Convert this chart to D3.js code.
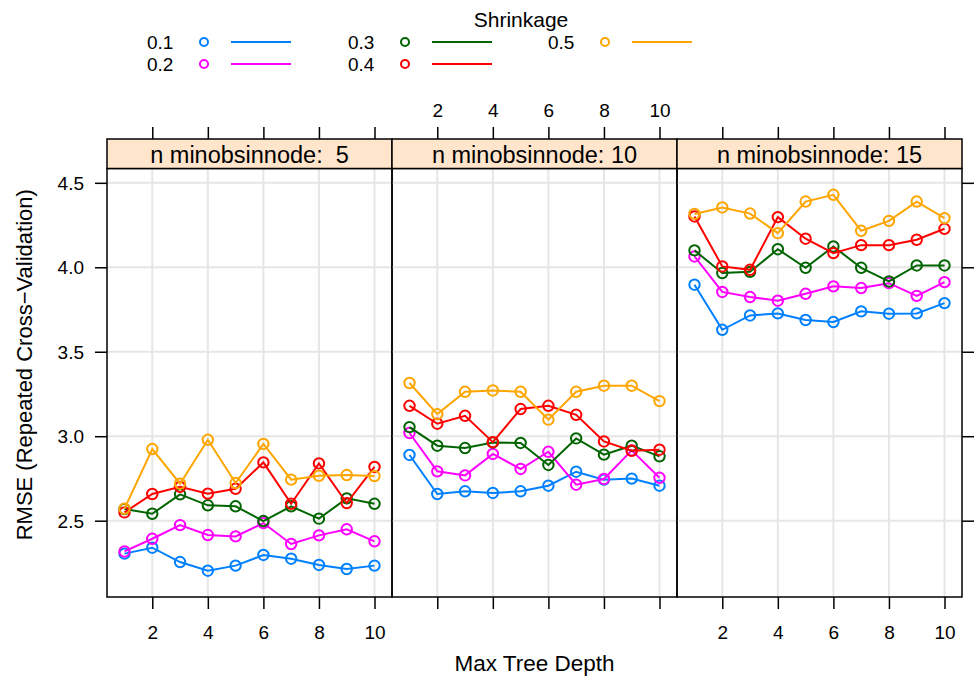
<!DOCTYPE html>
<html>
<head>
<meta charset="utf-8">
<script src="https://d3js.org/d3.v7.min.js"></script>
<style>
  body { margin: 0; background: #fff; }
  text { font-family: "Liberation Sans", Arial, sans-serif; fill: #000; white-space: pre; }
</style>
</head>
<body>
<svg id="chart" width="976" height="683"></svg>
<script>
// tuning grid: max tree depth x shrinkage, one panel per n.minobsinnode
const depths = [1, 2, 3, 4, 5, 6, 7, 8, 9, 10];
const shrinkages = ["0.1", "0.2", "0.3", "0.4", "0.5"];
const minObs = [5, 10, 15];
const stripLabels = ["n minobsinnode:  5", "n minobsinnode: 10", "n minobsinnode: 15"];
const xTicks = [2, 4, 6, 8, 10];
const yTicks = [2.5, 3.0, 3.5, 4.0, 4.5];

// rows = shrinkage 0.1 .. 0.5
const rmseNode5 = [
    [2.305, 2.340, 2.255, 2.204, 2.234, 2.297, 2.275, 2.238, 2.214, 2.234],
    [2.318, 2.393, 2.474, 2.415, 2.407, 2.486, 2.362, 2.413, 2.449, 2.378],
    [2.569, 2.541, 2.656, 2.591, 2.585, 2.498, 2.585, 2.512, 2.632, 2.600],
    [2.549, 2.658, 2.700, 2.660, 2.689, 2.845, 2.600, 2.839, 2.604, 2.818],
    [2.571, 2.924, 2.719, 2.979, 2.723, 2.954, 2.743, 2.766, 2.770, 2.764]
];
const rmseNode10 = [
    [2.889, 2.658, 2.674, 2.664, 2.674, 2.707, 2.790, 2.743, 2.749, 2.707],
    [3.019, 2.792, 2.768, 2.895, 2.806, 2.908, 2.713, 2.747, 2.916, 2.754],
    [3.054, 2.944, 2.930, 2.963, 2.960, 2.830, 2.987, 2.891, 2.944, 2.881],
    [3.180, 3.074, 3.121, 2.965, 3.161, 3.180, 3.127, 2.969, 2.914, 2.920],
    [3.315, 3.131, 3.263, 3.271, 3.263, 3.098, 3.263, 3.299, 3.299, 3.208]
];
const rmseNode15 = [
    [3.897, 3.630, 3.715, 3.727, 3.688, 3.676, 3.739, 3.725, 3.727, 3.788],
    [4.064, 3.854, 3.824, 3.802, 3.843, 3.887, 3.877, 3.906, 3.831, 3.912],
    [4.100, 3.966, 3.973, 4.107, 3.997, 4.123, 3.997, 3.916, 4.011, 4.011],
    [4.301, 4.005, 3.985, 4.297, 4.169, 4.084, 4.131, 4.131, 4.163, 4.228],
    [4.316, 4.354, 4.318, 4.202, 4.389, 4.429, 4.216, 4.275, 4.389, 4.291]
];
const panelData = [rmseNode5, rmseNode10, rmseNode15];

const colors = ["#0080ff", "#ff00ff", "#006400", "#ff0000", "#ffa500"];

// layout
const left = 107, panelW = 285, stripTop = 139, stripH = 29.5;
const panelTop = stripTop + stripH, panelBottom = 597;
const tickLen = 12;
const tickFont = 19;

const svg = d3.select("#chart");

// lattice pads the data range by 7% on each side
const pad = (ext) => {
    const d = (ext[1] - ext[0]) * 0.07;
    return [ext[0] - d, ext[1] + d];
};
const allY = panelData.flat(2);
const y = d3.scaleLinear().domain(pad(d3.extent(allY))).range([panelBottom, panelTop]);
const xDomain = pad(d3.extent(depths));

function label(g, x, yy, txt, size, anchor) {
    return g.append("text")
        .attr("x", x).attr("y", yy)
        .attr("font-size", size)
        .attr("text-anchor", anchor || "middle")
        .attr("dominant-baseline", "central")
        .text(txt);
}

panelData.forEach((rows, p) => {
    const x0 = left + p * panelW;
    const x = d3.scaleLinear().domain(xDomain).range([x0, x0 + panelW]);
    const g = svg.append("g");

    // grid
    g.selectAll(".vgrid").data(xTicks).enter().append("line")
        .attr("x1", d => x(d)).attr("x2", d => x(d))
        .attr("y1", panelTop).attr("y2", panelBottom)
        .attr("stroke", "#e6e6e6").attr("stroke-width", 2);
    g.selectAll(".hgrid").data(yTicks).enter().append("line")
        .attr("x1", x0).attr("x2", x0 + panelW)
        .attr("y1", d => y(d)).attr("y2", d => y(d))
        .attr("stroke", "#e6e6e6").attr("stroke-width", 2);

    // series
    const line = d3.line().x((d, i) => x(depths[i])).y(d => y(d));
    rows.forEach((vals, s) => {
        g.append("path").datum(vals)
            .attr("d", line)
            .attr("fill", "none")
            .attr("stroke", colors[s])
            .attr("stroke-width", 2);
        g.selectAll(".pt" + s).data(vals).enter().append("circle")
            .attr("cx", (d, i) => x(depths[i]))
            .attr("cy", d => y(d))
            .attr("r", 5.2)
            .attr("fill", "none")
            .attr("stroke", colors[s])
            .attr("stroke-width", 2);
    });

    // panel box + strip
    g.append("rect")
        .attr("x", x0).attr("y", panelTop)
        .attr("width", panelW).attr("height", panelBottom - panelTop)
        .attr("fill", "none").attr("stroke", "#000").attr("stroke-width", 1.5);
    g.append("rect")
        .attr("x", x0).attr("y", stripTop)
        .attr("width", panelW).attr("height", stripH)
        .attr("fill", "#ffe5cc").attr("stroke", "#000").attr("stroke-width", 1.5);
    label(g, x0 + panelW / 2, stripTop + stripH / 2 + 1, stripLabels[p], 23.5);

    // x ticks on top and bottom, labels alternate
    const bottomAxis = d3.axisBottom(x).tickValues(xTicks).tickSize(tickLen)
        .tickFormat(p === 1 ? "" : d3.format("d"));
    const topAxis = d3.axisTop(x).tickValues(xTicks).tickSize(tickLen)
        .tickFormat(p === 1 ? d3.format("d") : "");
    [["b", bottomAxis, panelBottom], ["t", topAxis, stripTop]].forEach(([k, ax, yy]) => {
        const a = g.append("g").attr("transform", `translate(0,${yy})`).call(ax);
        a.select(".domain").remove();
        a.selectAll(".tick line").attr("stroke-width", 1.5);
        a.selectAll(".tick text")
            .attr("font-size", tickFont)
            .attr("font-family", "Liberation Sans, Arial, sans-serif")
            .attr("dy", null)
            .attr("y", k === "b" ? 35 : -29)
            .attr("dominant-baseline", "central");
    });
});

// y axis: labels on the left, ticks only on the right
const yLeft = svg.append("g").attr("transform", `translate(${left},0)`)
    .call(d3.axisLeft(y).tickValues(yTicks).tickSize(tickLen).tickFormat(d3.format(".1f")));
const right = left + 3 * panelW;
const yRight = svg.append("g").attr("transform", `translate(${right},0)`)
    .call(d3.axisRight(y).tickValues(yTicks).tickSize(tickLen).tickFormat(""));
[yLeft, yRight].forEach(a => {
    a.select(".domain").remove();
    a.selectAll(".tick line").attr("stroke-width", 1.5);
});
yLeft.selectAll(".tick text")
    .attr("font-size", tickFont)
    .attr("font-family", "Liberation Sans, Arial, sans-serif")
    .attr("x", -23).attr("dy", null)
    .attr("dominant-baseline", "central");

// axis titles
label(svg, left + 1.5 * panelW, 663, "Max Tree Depth", 22.5);
svg.append("text")
    .attr("transform", `translate(24,${(panelTop + panelBottom) / 2 - 18}) rotate(-90)`)
    .attr("font-size", 22)
    .attr("text-anchor", "middle")
    .attr("dominant-baseline", "central")
    .text("RMSE (Repeated Cross\u2212Validation)");

// legend, 3 columns
const key = svg.append("g");
label(key, 521, 19, "Shrinkage", 21);
const colX = [147, 348, 548];
const rowY = [42, 64];
shrinkages.forEach((s, i) => {
    const cx = colX[Math.floor(i / 2)];
    const ry = rowY[i % 2];
    label(key, cx, ry, s, 19, "start");
    key.append("circle")
        .attr("cx", cx + 57).attr("cy", ry).attr("r", 4)
        .attr("fill", "none").attr("stroke", colors[i]).attr("stroke-width", 2);
    key.append("line")
        .attr("x1", cx + 84).attr("x2", cx + 144)
        .attr("y1", ry).attr("y2", ry)
        .attr("stroke", colors[i]).attr("stroke-width", 2);
});
</script>
</body>
</html>
